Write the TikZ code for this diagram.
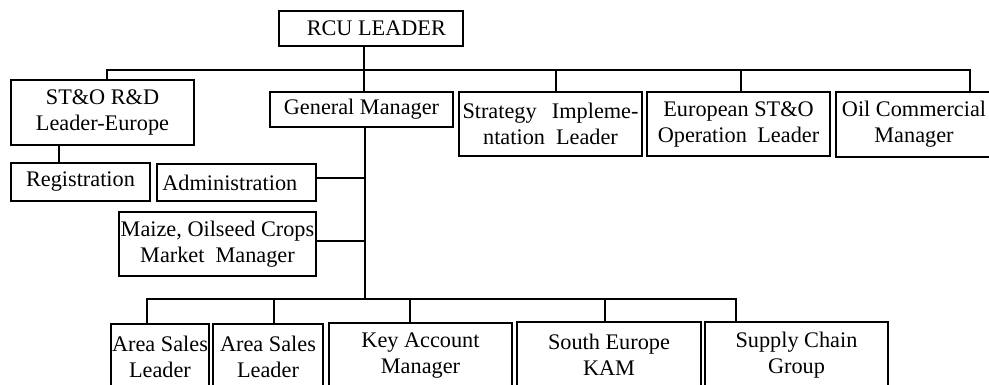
\documentclass[tikz,border=0pt]{standalone}
\usepackage{fontspec}
\setmainfont{Liberation Serif}
\begin{document}
\begin{tikzpicture}[x=0.75pt,y=-0.75pt,
  box/.style={draw=black,line width=0.8pt,inner sep=0pt,align=center,
    font=\fontsize{16.7}{19.5}\selectfont},
  wh/.style 2 args={minimum width=#1*0.75pt,minimum height=#2*0.75pt},
  link/.style={draw=black,line width=0.8pt}]
\useasboundingbox (0,0) rectangle (989,385);
\clip (0,0) rectangle (989,385);
\fill[white] (0,0) rectangle (989,385);

% head of the unit
\node[box,wh={184}{35}] (rcu) at (371,28.5) {\hspace*{8pt}RCU LEADER};

% second level
\node[box,wh={183}{65}] (sto) at (102.5,112.5) {ST\&O R\&D\\Leader-Europe};
\node[box,wh={183}{35}] (gm) at (361.5,109.5) {General Manager};
\node[box,wh={183}{64}] (strat) at (550.5,124)
  {\makebox[132pt]{Strategy\hfill Impleme-}\\\makebox[101pt]{ntation\hfill Leader}};
\node[box,wh={183}{64}] (euro) at (738.5,124)
  {European ST\&O\\\makebox[121pt]{Operation\hfill Leader}};
\node[box,wh={156}{65}] (oil) at (914,124.5) {Oil Commercial\\Manager};

% staff units
\node[box,wh={139}{38}] (reg) at (80.5,182) {Registration};
\node[box,wh={159}{37}] (admin) at (236.5,182.5) {Administration\hspace*{10pt}};
\node[box,wh={197}{64}] (maize) at (217.5,244) {Maize, Oilseed Crops\\Market\ \ Manager};

% sales and supply level
\node[box,wh={98}{66}] (as1) at (160,357) {Area Sales\\Leader};
\node[box,wh={110}{66}] (as2) at (268,357) {Area Sales\\Leader};
\node[box,wh={183}{66}] (kam) at (420.5,356) {Key Account\\Manager};
\node[box,wh={184}{66}] (se) at (609,355) {South Europe\\KAM};
\node[box,wh={183}{66}] (sc) at (796.5,355) {Supply Chain\\Group};

% bus lines
\coordinate (top) at (364,70);
\coordinate (trunk) at (365,299);

% RCU leader to second level
\draw[link] (rcu.south -| top) -- (gm.north -| top);
\draw[link] ([xshift=4.5*0.75pt]sto.north) |- (top) -| ([xshift=56*0.75pt]oil.north);
\draw[link] ([xshift=5.5*0.75pt]strat.north) -- ++(0,-22);
\draw[link] ([xshift=2.5*0.75pt]euro.north) -- ++(0,-22);

% R&D leader to registration
\draw[link] ([xshift=-43.5*0.75pt]sto.south) -- ([xshift=-21.5*0.75pt]reg.north);

% general manager trunk
\draw[link] (gm.south -| trunk) -- (trunk);
\draw[link] ([yshift=4.5*0.75pt]admin.east) -- ([yshift=4.5*0.75pt]admin.east -| trunk);
\draw[link] ([yshift=3*0.75pt]maize.east) -- ([yshift=3*0.75pt]maize.east -| trunk);

% bottom bus
\draw[link] ([xshift=-13*0.75pt]as1.north) |- (trunk) -| ([xshift=-60.5*0.75pt]sc.north);
\draw[link] ([xshift=6*0.75pt]as2.north) -- ++(0,-25);
\draw[link] ([xshift=-10.5*0.75pt]kam.north) -- ++(0,-24);
\draw[link] ([xshift=-4*0.75pt]se.north) -- ++(0,-23);
\end{tikzpicture}
\end{document}
